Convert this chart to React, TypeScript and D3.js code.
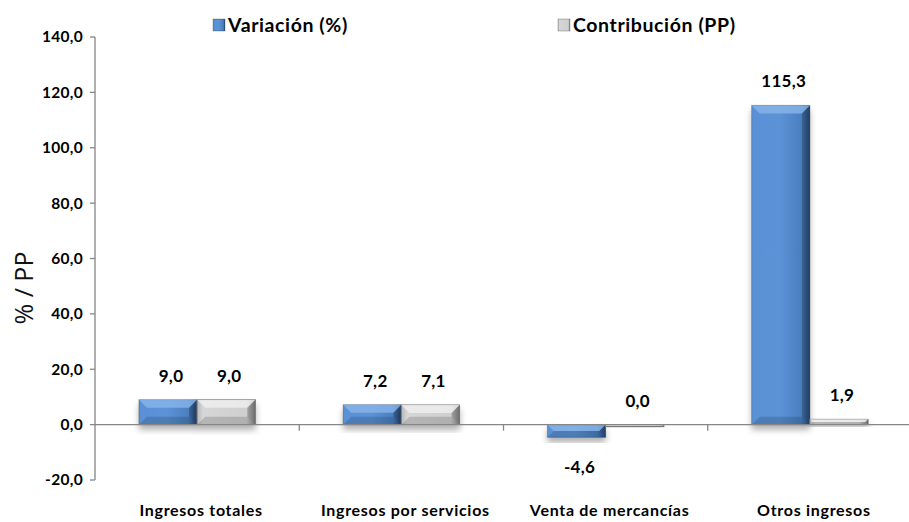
import React, { useEffect, useRef } from "react";
import * as d3 from "d3";

const categories = [
  "Ingresos totales",
  "Ingresos por servicios",
  "Venta de mercancías",
  "Otros ingresos",
];
const variacion = [9.0, 7.2, -4.6, 115.3];
const contribucion = [9.0, 7.1, 0.0, 1.9];
const yTicks = [-20, 0, 20, 40, 60, 80, 100, 120, 140];
const seriesNames = ["Variación (%)", "Contribución (PP)"];

const fmt = (v: number) => v.toFixed(1).replace(".", ",");

function App() {
  const ref = useRef<SVGSVGElement>(null);
  const width = 909;
  const height = 522;
  const margin = { top: 37, right: -3, bottom: 42, left: 95 };

  useEffect(() => {
    const svg = d3.select(ref.current);
    svg.selectAll("*").remove();

    const font = "Lato, 'Open Sans', sans-serif";
    const x = d3
      .scaleBand()
      .domain(categories)
      .range([margin.left, width - margin.right]);
    const y = d3
      .scaleLinear()
      .domain([-20, 140])
      .range([height - margin.bottom, margin.top]);

    const defs = svg.append("defs");
    const grad = (id: string, stops: [number, string][]) => {
      const g = defs
        .append("linearGradient")
        .attr("id", id)
        .attr("x1", "0")
        .attr("x2", "1")
        .attr("y1", "0")
        .attr("y2", "0");
      stops.forEach(([o, c]) =>
        g.append("stop").attr("offset", o).attr("stop-color", c)
      );
    };
    grad("blueG", [
      [0, "#5a91d6"],
      [0.5, "#5b92d6"],
      [0.85, "#4a7fc0"],
      [1, "#2b4f80"],
    ]);
    grad("grayG", [
      [0, "#b8b8b8"],
      [0.1, "#d6d6d6"],
      [0.85, "#cfcfcf"],
      [1, "#8a8a8a"],
    ]);
    const shadow = defs
      .append("filter")
      .attr("id", "shadow")
      .attr("x", "-20%")
      .attr("y", "-20%")
      .attr("width", "140%")
      .attr("height", "160%");
    shadow
      .append("feDropShadow")
      .attr("dx", 0)
      .attr("dy", 5)
      .attr("stdDeviation", 3)
      .attr("flood-color", "#000")
      .attr("flood-opacity", 0.3);

    const txt = (size: number, weight = "bold", spacing = 0) =>
      (s: d3.Selection<SVGTextElement, unknown, null, undefined>) =>
        s
          .style("font-family", font)
          .style("font-weight", weight)
          .style("font-size", `${size}px`)
          .style("letter-spacing", `${spacing}px`)
          .attr("fill", "#000");

    // y axis
    const axisColor = "#868686";
    svg
      .append("line")
      .attr("x1", margin.left)
      .attr("x2", margin.left)
      .attr("y1", y(140))
      .attr("y2", y(-20))
      .attr("stroke", axisColor)
      .attr("stroke-width", 1.3);
    yTicks.forEach((t) => {
      svg
        .append("line")
        .attr("x1", margin.left - 5)
        .attr("x2", margin.left)
        .attr("y1", y(t))
        .attr("y2", y(t))
        .attr("stroke", axisColor)
        .attr("stroke-width", 1.3);
      svg
        .append("text")
        .attr("x", margin.left - 12)
        .attr("y", y(t))
        .attr("dy", "0.35em")
        .attr("text-anchor", "end")
        .call(txt(15.5, "bold", 0.3))
        .text(fmt(t));
    });

    svg
      .append("text")
      .attr("transform", `translate(33, 288) rotate(-90)`)
      .attr("text-anchor", "middle")
      .style("font-family", "'Open Sans', sans-serif")
      .style("font-size", "25px")
      .attr("fill", "#111")
      .text("% / PP");

    const bw = x.bandwidth() * 0.285;
    const groups = [
      { vals: variacion, fill: "url(#blueG)", top: "#8cb8ec", off: -1, stroke: "rgba(0,0,0,0.25)" },
      { vals: contribucion, fill: "url(#grayG)", top: "#f2f2f2", off: 0, stroke: "#7f7f7f" },
    ];

    groups.forEach((g) => {
      categories.forEach((c, i) => {
        const v = g.vals[i];
        const cx = (x(c) as number) + x.bandwidth() / 2;
        const x0 = cx + g.off * bw;
        const y0 = Math.min(y(v), y(0));
        const h = Math.max(Math.abs(y(v) - y(0)), 2);
        const gr = svg.append("g").attr("filter", "url(#shadow)");
        gr.append("rect")
          .attr("x", x0)
          .attr("y", y0)
          .attr("width", bw)
          .attr("height", h)
          .attr("fill", g.fill)
          .attr("stroke", g.stroke)
          .attr("stroke-width", 1);
        const b = Math.min(8, h / 2, bw / 4);
        // top bevel
        gr.append("path")
          .attr(
            "d",
            `M${x0},${y0} L${x0 + bw},${y0} L${x0 + bw - b},${y0 + b} L${x0 + b},${y0 + b} Z`
          )
          .attr("fill", g.top)
          .attr("opacity", 0.75);
        // bottom bevel
        gr.append("path")
          .attr(
            "d",
            `M${x0},${y0 + h} L${x0 + bw},${y0 + h} L${x0 + bw - b},${y0 + h - b} L${x0 + b},${y0 + h - b} Z`
          )
          .attr("fill", "#000")
          .attr("opacity", 0.15);
        // right bevel
        gr.append("path")
          .attr(
            "d",
            `M${x0 + bw},${y0} L${x0 + bw},${y0 + h} L${x0 + bw - b},${y0 + h - b} L${x0 + bw - b},${y0 + b} Z`
          )
          .attr("fill", "#000")
          .attr("opacity", 0.2);

        svg
          .append("text")
          .attr("x", x0 + bw / 2 + 3)
          .attr("y", v < 0 ? y(v) + 36 : y(v) - 18)
          .attr("text-anchor", "middle")
          .call(txt(17, "bold", 0.3))
          .text(fmt(v));
      });
    });

    // zero line and category ticks
    svg
      .append("line")
      .attr("x1", margin.left)
      .attr("x2", width - margin.right)
      .attr("y1", y(0))
      .attr("y2", y(0))
      .attr("stroke", axisColor)
      .attr("stroke-width", 1.3);
    categories.forEach((c, i) => {
      if (i > 0) {
        svg
          .append("line")
          .attr("x1", x(c) as number)
          .attr("x2", x(c) as number)
          .attr("y1", y(0))
          .attr("y2", y(0) + 6)
          .attr("stroke", axisColor)
          .attr("stroke-width", 1.3);
      }
      svg
        .append("text")
        .attr("x", (x(c) as number) + x.bandwidth() / 2 + 4)
        .attr("y", 516)
        .attr("text-anchor", "middle")
        .call(txt(16, "bold", 0.7))
        .text(c);
    });

    // legend
    const legend = [
      { name: seriesNames[0], fill: "url(#blueG)", lx: 213 },
      { name: seriesNames[1], fill: "url(#grayG)", lx: 558 },
    ];
    legend.forEach((l) => {
      svg
        .append("rect")
        .attr("x", l.lx)
        .attr("y", 19)
        .attr("width", 12)
        .attr("height", 12)
        .attr("fill", l.fill)
        .attr("stroke", "rgba(0,0,0,0.3)")
        .attr("stroke-width", 0.8);
      svg
        .append("text")
        .attr("x", l.lx + 15)
        .attr("y", 32)
        .call(txt(19.5, "bold", 0.6))
        .text(l.name);
    });
  }, []);

  return (
    <svg
      ref={ref}
      width={width}
      height={height}
      style={{ position: "absolute", left: 0, top: 0, background: "#fff" }}
    />
  );
}

export default App;
